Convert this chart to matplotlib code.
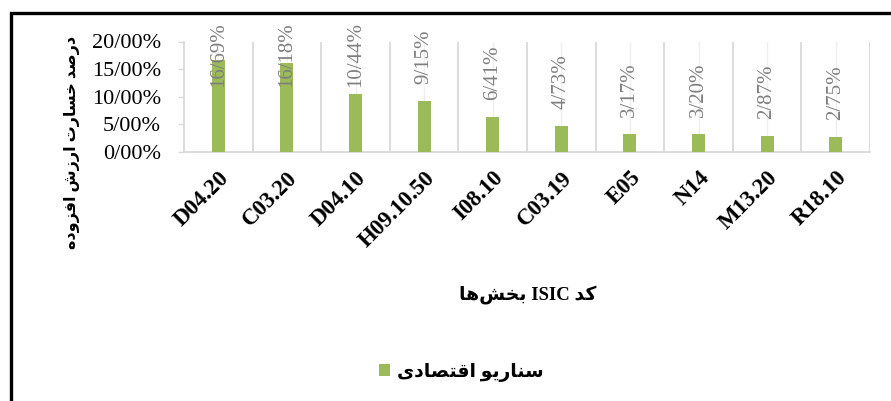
import matplotlib
matplotlib.use("Agg")
import matplotlib.pyplot as plt
from matplotlib.patches import Rectangle, Patch
from matplotlib.ticker import FuncFormatter, MultipleLocator

# ---------------- data ----------------
categories = ["D04.20", "C03.20", "D04.10", "H09.10.50", "I08.10",
              "C03.19", "E05", "N14", "M13.20", "R18.10"]
values = [16.69, 16.18, 10.44, 9.15, 6.41, 4.73, 3.17, 3.20, 2.87, 2.75]
series_name = "سناریو اقتصادی"
x_title = "کد ISIC بخش‌ها"
y_title = "درصد خسارت ارزش افزوده"

# ---------------- minimal Persian shaping (matplotlib has no shaping/bidi) ----------------
DUAL = {
    "\u0628": ("\uFE8F", "\uFE90", "\uFE91", "\uFE92"),  # beh
    "\u062A": ("\uFE95", "\uFE96", "\uFE97", "\uFE98"),  # teh
    "\u062E": ("\uFEA5", "\uFEA6", "\uFEA7", "\uFEA8"),  # khah
    "\u0633": ("\uFEB1", "\uFEB2", "\uFEB3", "\uFEB4"),  # seen
    "\u0634": ("\uFEB5", "\uFEB6", "\uFEB7", "\uFEB8"),  # sheen
    "\u0635": ("\uFEB9", "\uFEBA", "\uFEBB", "\uFEBC"),  # sad
    "\u0641": ("\uFED1", "\uFED2", "\uFED3", "\uFED4"),  # feh
    "\u0642": ("\uFED5", "\uFED6", "\uFED7", "\uFED8"),  # qaf
    "\u0646": ("\uFEE5", "\uFEE6", "\uFEE7", "\uFEE8"),  # noon
    "\u0647": ("\uFEE9", "\uFEEA", "\uFEEB", "\uFEEC"),  # heh
    "\u06CC": ("\uFBFC", "\uFBFD", "\uFBFE", "\uFBFF"),  # farsi yeh
    "\u06A9": ("\uFB8E", "\uFB8F", "\uFB90", "\uFB91"),  # keheh
}
RIGHT = {
    "\u0627": ("\uFE8D", "\uFE8E"),  # alef
    "\u062F": ("\uFEA9", "\uFEAA"),  # dal
    "\u0631": ("\uFEAD", "\uFEAE"),  # reh
    "\u0632": ("\uFEAF", "\uFEB0"),  # zain
    "\u0648": ("\uFEED", "\uFEEE"),  # waw
}


def shape_word(word):
    chars = list(word)
    out = []
    for i, c in enumerate(chars):
        if c == "\u200C":
            continue
        if c not in DUAL and c not in RIGHT:
            out.append(c)
            continue
        prev = chars[i - 1] if i > 0 else None
        nxt = chars[i + 1] if i + 1 < len(chars) else None
        jp = prev in DUAL
        jn = (c in DUAL) and (nxt in DUAL or nxt in RIGHT)
        if c in DUAL:
            iso, fin, ini, med = DUAL[c]
            out.append(med if (jp and jn) else fin if jp else ini if jn else iso)
        else:
            iso, fin = RIGHT[c]
            out.append(fin if jp else iso)
    return "".join(reversed(out))


def is_arabic(tok):
    return any("\u0600" <= ch <= "\u06FF" for ch in tok)


def rtl(text):
    toks = text.split(" ")
    vis = [shape_word(t) if is_arabic(t) else t for t in toks]
    return " ".join(reversed(vis))


FA_FAMILY = ["Liberation Serif", "DejaVu Sans"]

# ---------------- figure ----------------
W, H = 891, 401
fig = plt.figure(figsize=(W / 100, H / 100), dpi=100)
ax_l, ax_r, ax_t, ax_b = 184, 870, 41.5, 152
ax = fig.add_axes([ax_l / W, 1 - ax_b / H, (ax_r - ax_l) / W, (ax_b - ax_t) / H])

xpos = list(range(len(categories)))
bar_color = "#9BBB59"
bars = ax.bar(xpos, values, width=0.19, color=bar_color, zorder=3, label=rtl(series_name))

ax.set_xlim(-0.5, len(categories) - 0.5)
ax.set_ylim(0, 20)
ax.yaxis.set_major_locator(MultipleLocator(5))
ax.yaxis.set_major_formatter(FuncFormatter(lambda v, p: f"{v:.2f}%".replace(".", "/")))

# vertical lines: category boundaries and faint category centres
for i in range(len(categories)):
    ax.axvline(i + 0.5, color="#D9D9D9", lw=1.3, zorder=1)
    ax.axvline(i, color="#EFEFEF", lw=1.0, zorder=1)

for s in ["top", "right"]:
    ax.spines[s].set_visible(False)
ax.spines["left"].set_color("#D9D9D9")
ax.spines["bottom"].set_color("#D9D9D9")
ax.spines["left"].set_linewidth(1.3)
ax.spines["bottom"].set_linewidth(1.3)

ax.tick_params(axis="y", direction="out", length=4.5, width=1.0, color="#D9D9D9",
               labelsize=16, pad=12)
for t in ax.get_yticklabels():
    t.set_fontfamily("Liberation Serif")
ax.set_xticks(xpos)
ax.set_xticklabels(categories, rotation=45, ha="right", va="top",
                   rotation_mode="anchor", fontfamily="Liberation Serif",
                   fontweight="bold", fontsize=16.5)
ax.tick_params(axis="x", length=0, pad=11)

# axis titles
ax.set_xlabel(rtl(x_title), fontfamily=FA_FAMILY, fontweight="bold", fontsize=13.5)
ax.xaxis.set_label_coords((528 - ax_l) / (ax_r - ax_l), (ax_b - 285) / (ax_b - ax_t))
ax.set_ylabel(rtl(y_title), fontfamily=FA_FAMILY, fontweight="bold", fontsize=11.5)
ax.yaxis.set_label_coords((80 - ax_l) / (ax_r - ax_l), (ax_b - 142) / (ax_b - ax_t))

# data labels (outside end, clamped to chart top)
off_px = 17
labels = []
for i, v in zip(xpos, values):
    t = ax.annotate(f"{v:.2f}%".replace(".", "/"), xy=(i, v),
                    xytext=(0, off_px * 0.72), textcoords="offset points",
                    rotation=90, ha="center", va="bottom", fontsize=15,
                    color="#7F7F7F", fontfamily="Liberation Serif",
                    annotation_clip=False, zorder=4)
    labels.append(t)

fig.canvas.draw()
renderer = fig.canvas.get_renderer()
top_limit = H - 22  # pixels from bottom
for t in labels:
    bb = t.get_window_extent(renderer)
    if bb.y1 > top_limit:
        shift = bb.y1 - top_limit
        x0, y0 = t.xyann
        t.xyann = (x0, y0 - shift * 0.72)

# legend
handle = Patch(facecolor=bar_color, edgecolor="none")
fig.legend([handle], [rtl(series_name)], loc="center",
           bbox_to_anchor=(461 / W, 1 - 372 / H), frameon=False,
           prop={"family": FA_FAMILY, "weight": "bold", "size": 13.5},
           handlelength=0.6, handleheight=0.6, handletextpad=0.35)

# outer chart frame (cropped on the right and bottom)
fig.patches.append(Rectangle((10.5 / W, -0.2), 1.5, 1.2 - 12.8 / H,
                             transform=fig.transFigure, fill=False,
                             edgecolor="black", lw=2.4, clip_on=False))

fig.savefig("out.png", dpi=100)
